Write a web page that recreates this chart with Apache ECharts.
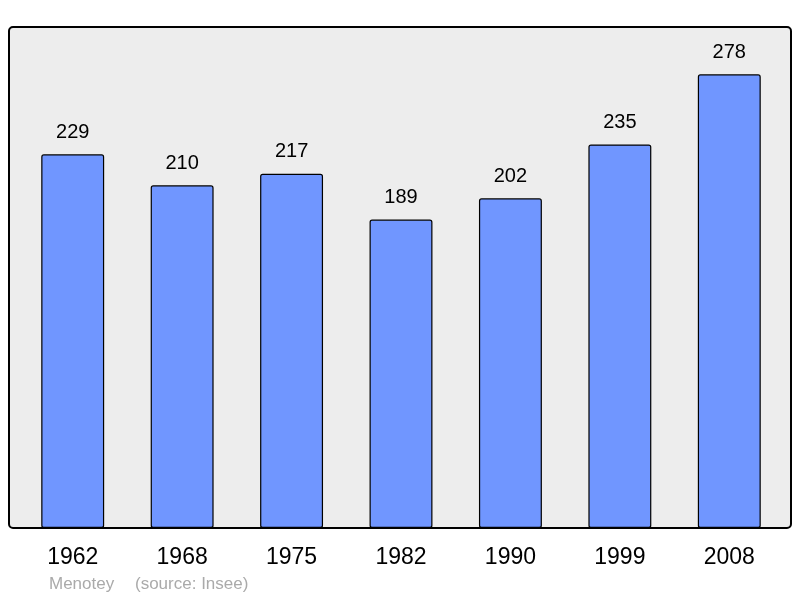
<!DOCTYPE html>
<html><head><meta charset="utf-8">
<script src="https://cdn.jsdelivr.net/npm/echarts@6/dist/echarts.min.js"></script>
<style>html,body{margin:0;padding:0;background:#fff}#c{width:800px;height:598px}</style>
</head><body><div id="c"></div>
<script>
const categories = ['1962','1968','1975','1982','1990','1999','2008'];
const population = [229,210,217,189,202,235,278];

const chart = echarts.init(document.getElementById('c'), null, {renderer:'canvas'});
chart.setOption({
  animation:false,
  backgroundColor:'#ffffff',
  textStyle:{fontFamily:'Liberation Sans, Arial, sans-serif'},
  graphic:[
    {type:'rect', z:-10, silent:true, shape:{x:9,y:27,width:782,height:501,r:4},
     style:{fill:'#ededed', stroke:'#000', lineWidth:2}},
    {type:'text', left:49, top:576, silent:true,
     style:{text:'Menotey', fill:'#aaaaaa', font:'17px "Liberation Sans", Arial, sans-serif'}},
    {type:'text', left:135, top:576, silent:true,
     style:{text:'(source: Insee)', fill:'#aaaaaa', font:'17px "Liberation Sans", Arial, sans-serif'}}
  ],
  grid:{left:18, right:16, top:27, bottom:70, containLabel:false},
  xAxis:{type:'category', data:categories,
    axisLine:{show:false}, axisTick:{show:false},
    axisLabel:{color:'#000', fontSize:23, margin:18, fontFamily:'Liberation Sans, Arial, sans-serif'}},
  yAxis:{type:'value', min:0, max:307, show:false, splitLine:{show:false}},
  series:[{type:'bar', data:population, barWidth:'57.5%',
    itemStyle:{color:'#7096ff', borderColor:'#000', borderWidth:1.2, borderRadius:2},
    label:{show:true, position:'top', distance:12, color:'#000', fontSize:20,
      fontFamily:'Liberation Sans, Arial, sans-serif'}}]
});
</script></body></html>
